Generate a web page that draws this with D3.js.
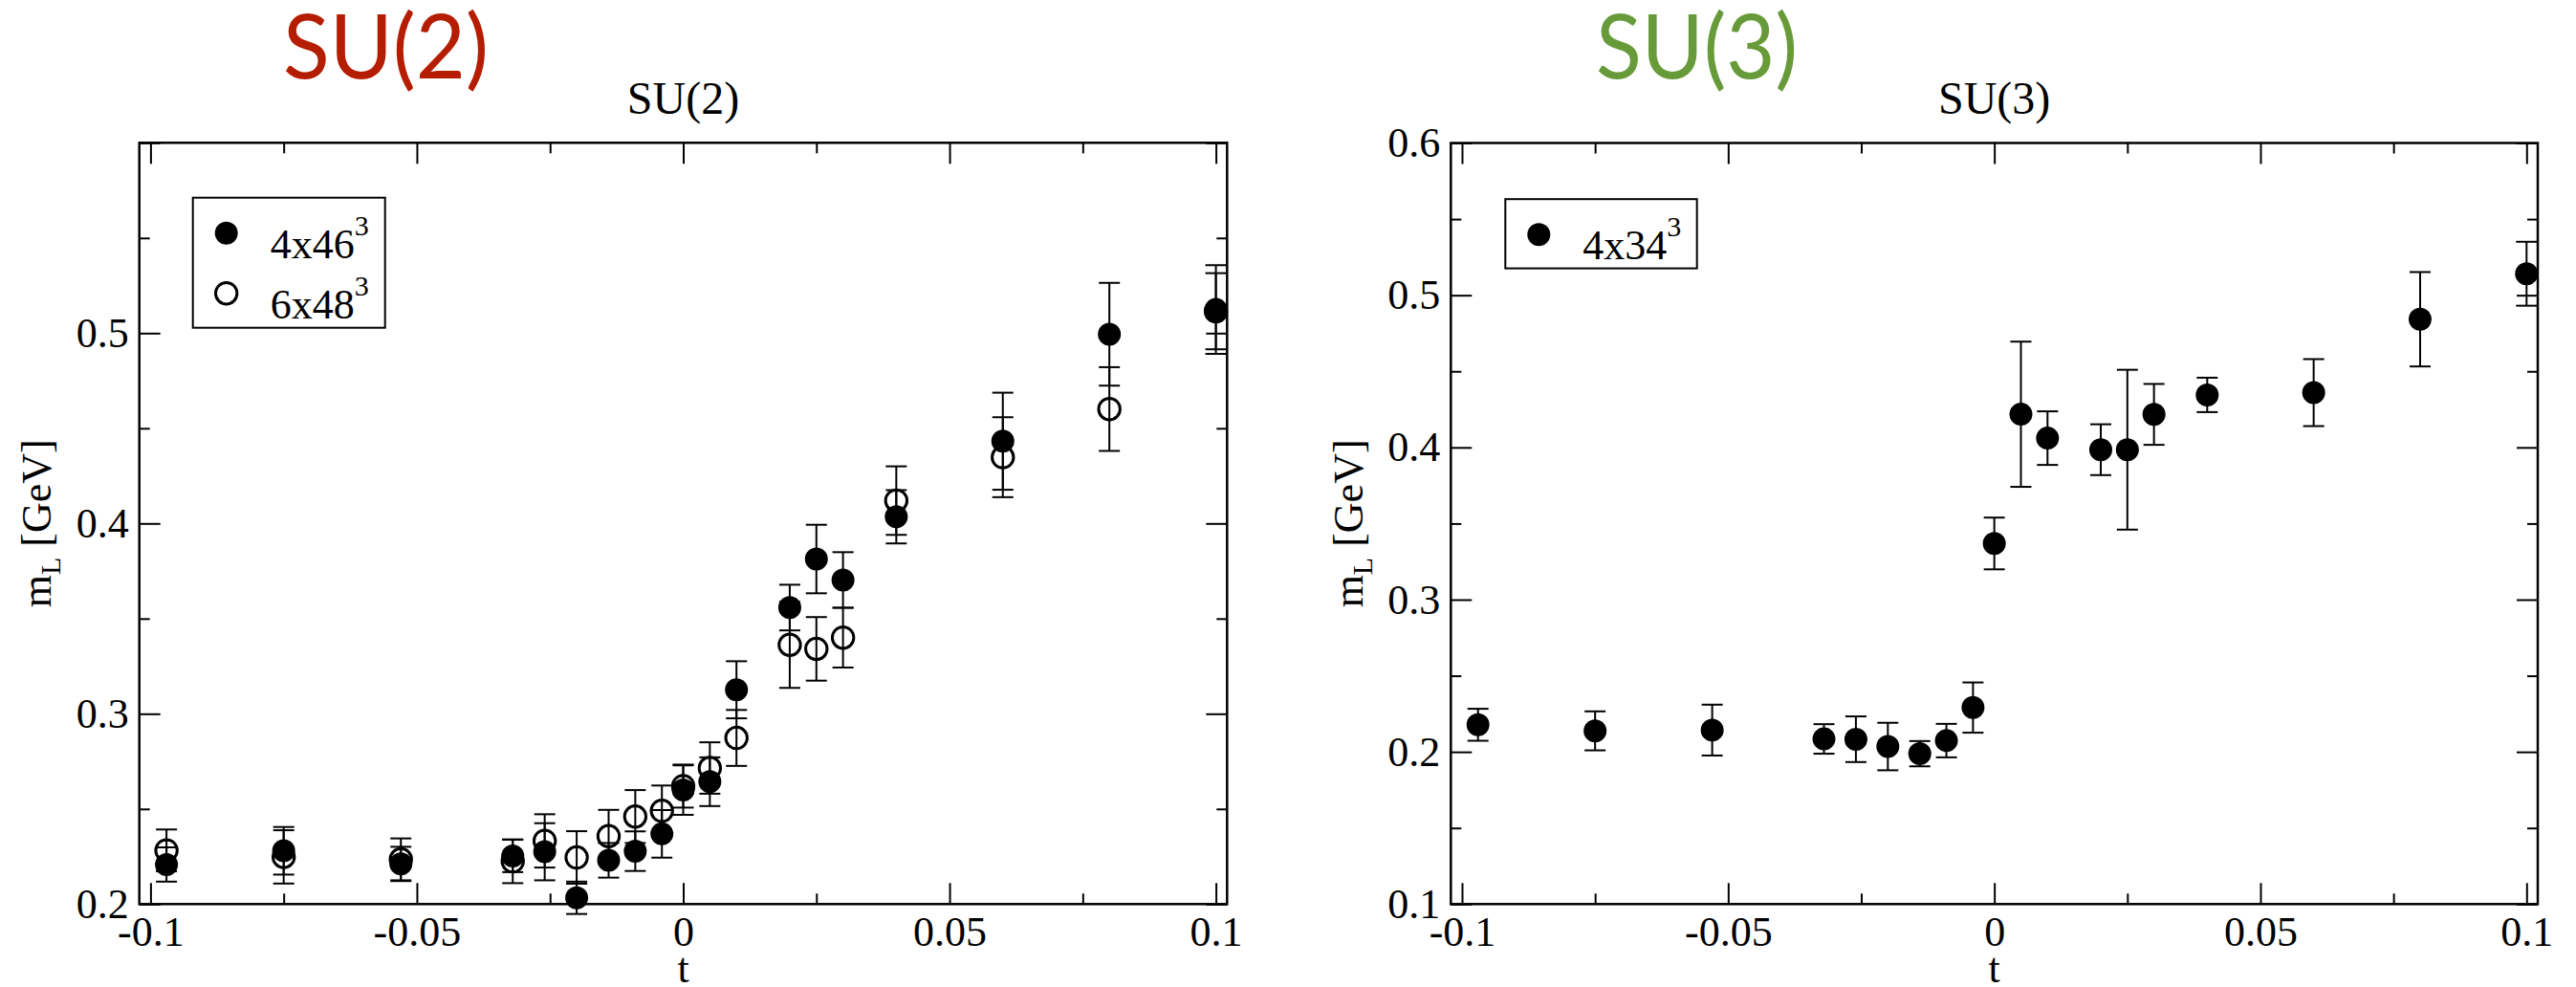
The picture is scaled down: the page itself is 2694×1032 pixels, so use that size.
<!DOCTYPE html>
<html><head><meta charset="utf-8">
<script src="https://cdn.jsdelivr.net/npm/d3@7"></script>
<style>body{margin:0;background:#fff}svg{display:block}</style>
</head><body>
<svg id="c" width="2694" height="1032"></svg>
<script>
// ---------- data ----------
const tSU2 = [-0.097,-0.075,-0.053,-0.032,-0.026,-0.020,-0.014,-0.009,-0.004,0,0.005,0.010,0.020,0.025,0.030,0.040,0.060,0.080,0.100];
const mSU2_4x46 = [0.2208,0.2280,0.2211,0.2253,0.2275,0.2033,0.2230,0.2278,0.2369,0.2599,0.2643,0.3126,0.3558,0.3813,0.3703,0.4035,0.4432,0.4994,0.5124];
const eSU2_4x46 = [0.0090,0.0125,0.0090,0.0085,0.0150,0.0085,0.0091,0.0104,0.0125,0.0130,0.0128,0.0150,0.0120,0.0180,0.0146,0.0140,0.0255,0.0270,0.0233];
const mSU2_6x48 = [0.2282,0.2248,0.2235,0.2225,0.2332,0.2245,0.2357,0.2460,0.2490,0.2620,0.2715,0.2873,0.3362,0.3341,0.3400,0.4120,0.4348,0.4601,0.5115];
const eSU2_6x48 = [0.0110,0.0140,0.0110,0.0115,0.0140,0.0138,0.0138,0.0139,0.0133,0.0113,0.0135,0.0147,0.0226,0.0167,0.0157,0.0180,0.0210,0.0220,0.0200];

const tSU3 = [-0.097,-0.075,-0.053,-0.032,-0.026,-0.020,-0.014,-0.009,-0.004,0,0.005,0.010,0.020,0.025,0.030,0.040,0.060,0.080,0.100];
const mSU3_4x34 = [0.2178,0.2138,0.2143,0.2085,0.2083,0.2035,0.1988,0.2074,0.2291,0.3369,0.4218,0.4061,0.3985,0.3985,0.4217,0.4345,0.4360,0.4842,0.5141];
const eSU3_4x34 = [0.0105,0.0128,0.0167,0.0097,0.0150,0.0156,0.0083,0.0110,0.0165,0.0170,0.0477,0.0176,0.0167,0.0525,0.0200,0.0113,0.0220,0.0310,0.0210];

const xMajor = [-0.1,-0.05,0,0.05,0.1];
const xMajorLabels = ["-0.1","-0.05","0","0.05","0.1"];
const xMinor = [-0.075,-0.025,0.025,0.075];
const yMajorSU2 = [0.2,0.3,0.4,0.5,0.6];
const yLabelsSU2 = ["0.2","0.3","0.4","0.5",""];
const yMinorSU2 = [0.25,0.35,0.45,0.55];
const yMajorSU3 = [0.1,0.2,0.3,0.4,0.5,0.6];
const yLabelsSU3 = ["0.1","0.2","0.3","0.4","0.5","0.6"];
const yMinorSU3 = [0.15,0.25,0.35,0.45,0.55];

const svg = d3.select("#c");
const SERIF = "'Liberation Serif','Times New Roman',serif";

function panel(o){
  const x = d3.scaleLinear().domain([-0.1021,0.1021]).range([o.x0,o.x1]);
  const y = d3.scaleLinear().domain(o.ydom).range([o.y1,o.y0]);
  const g = svg.append("g");
  const fmtX = (d)=> xMajorLabels[xMajor.indexOf(d)];
  const fmtY = (d)=> o.yLabels[o.yMajor.indexOf(d)];
  function style(sel, w){ sel.select(".domain").remove(); sel.selectAll("line").attr("stroke","#000").attr("stroke-width",w); sel.selectAll("text").attr("font-family",SERIF).attr("font-size",44).attr("fill","#000"); }
  // bottom
  g.append("g").attr("transform",`translate(0,${o.y1})`).call(d3.axisBottom(x).tickValues(xMajor).tickFormat(fmtX).tickSizeInner(-22).tickSizeOuter(0).tickPadding(12)).call(s=>style(s,2));
  g.append("g").attr("transform",`translate(0,${o.y1})`).call(d3.axisBottom(x).tickValues(xMinor).tickFormat("").tickSizeInner(-11).tickSizeOuter(0)).call(s=>style(s,2));
  // top
  g.append("g").attr("transform",`translate(0,${o.y0})`).call(d3.axisTop(x).tickValues(xMajor).tickFormat("").tickSizeInner(-22).tickSizeOuter(0)).call(s=>style(s,2));
  g.append("g").attr("transform",`translate(0,${o.y0})`).call(d3.axisTop(x).tickValues(xMinor).tickFormat("").tickSizeInner(-11).tickSizeOuter(0)).call(s=>style(s,2));
  // left
  g.append("g").attr("transform",`translate(${o.x0},0)`).call(d3.axisLeft(y).tickValues(o.yMajor).tickFormat(fmtY).tickSizeInner(-22).tickSizeOuter(0).tickPadding(11)).call(s=>style(s,2));
  g.append("g").attr("transform",`translate(${o.x0},0)`).call(d3.axisLeft(y).tickValues(o.yMinor).tickFormat("").tickSizeInner(-11).tickSizeOuter(0)).call(s=>style(s,2));
  // right
  g.append("g").attr("transform",`translate(${o.x1},0)`).call(d3.axisRight(y).tickValues(o.yMajor).tickFormat("").tickSizeInner(-22).tickSizeOuter(0)).call(s=>style(s,2));
  g.append("g").attr("transform",`translate(${o.x1},0)`).call(d3.axisRight(y).tickValues(o.yMinor).tickFormat("").tickSizeInner(-11).tickSizeOuter(0)).call(s=>style(s,2));
  // frame
  g.append("rect").attr("x",o.x0).attr("y",o.y0).attr("width",o.x1-o.x0).attr("height",o.y1-o.y0).attr("fill","none").attr("stroke","#000").attr("stroke-width",2.5);

  // error bars
  o.series.forEach(s=>{
    const eg = g.append("g").attr("stroke","#000").attr("stroke-width",2);
    s.t.forEach((t,i)=>{
      const cx = x(t), hi = y(s.m[i]+s.e[i]), lo = y(s.m[i]-s.e[i]);
      eg.append("line").attr("x1",cx).attr("x2",cx).attr("y1",hi).attr("y2",lo);
      eg.append("line").attr("x1",cx-11).attr("x2",cx+11).attr("y1",hi).attr("y2",hi);
      eg.append("line").attr("x1",cx-11).attr("x2",cx+11).attr("y1",lo).attr("y2",lo);
    });
  });
  // markers (open first, filled on top)
  o.series.slice().sort((a,b)=> (a.filled?1:0)-(b.filled?1:0)).forEach(s=>{
    g.append("g").selectAll("circle").data(s.t).join("circle")
      .attr("cx",d=>x(d)).attr("cy",(d,i)=>y(s.m[i]))
      .attr("r", s.filled?12:11.2)
      .attr("fill", s.filled?"#000":"none")
      .attr("stroke","#000").attr("stroke-width", s.filled?0:3);
  });

  // titles
  const cx = (o.x0+o.x1)/2;
  g.append("text").attr("x",cx).attr("y",119).attr("text-anchor","middle").attr("font-family",SERIF).attr("font-size",48).text(o.title);
  g.append("text").attr("x",cx).attr("y",1027).attr("text-anchor","middle").attr("font-family",SERIF).attr("font-size",44).text("t");
  const yl = g.append("text").attr("transform",`translate(${o.ylabX},${(o.y0+o.y1)/2}) rotate(-90)`).attr("text-anchor","middle").attr("font-family",SERIF).attr("font-size",44);
  yl.append("tspan").text("m");
  yl.append("tspan").attr("font-size",30).attr("dy",10).text("L");
  yl.append("tspan").attr("dy",-10).text(" [GeV]");
  // big colored title
  g.append("text").attr("x",o.bigX).attr("y",82).attr("font-family","Lato,'Open Sans',sans-serif").attr("font-size",94)
    .attr("fill",o.bigColor).attr("textLength",o.bigW).attr("lengthAdjust","spacingAndGlyphs").text(o.title);

  // legend
  const L = o.legend;
  g.append("rect").attr("x",L.x).attr("y",L.y).attr("width",L.w).attr("height",L.h).attr("fill","#fff").attr("stroke","#000").attr("stroke-width",2);
  L.items.forEach((it,k)=>{
    const yy = L.y + 37 + k*63;
    g.append("circle").attr("cx",L.x+35).attr("cy",yy).attr("r",it.filled?12:11.2)
      .attr("fill",it.filled?"#000":"none").attr("stroke","#000").attr("stroke-width",it.filled?0:3);
    const tx = g.append("text").attr("x",L.x+81).attr("y",yy+26).attr("font-family",SERIF).attr("font-size",44);
    tx.append("tspan").text(it.label);
    tx.append("tspan").attr("font-size",30).attr("dy",-24).text("3");
  });
}

panel({x0:145.7,x1:1283.3,y0:149.3,y1:945.3,ydom:[0.2,0.6],
  yMajor:yMajorSU2,yLabels:yLabelsSU2,yMinor:yMinorSU2,title:"SU(2)",ylabX:53,
  bigX:296,bigW:215,bigColor:"#b51d00",
  series:[{t:tSU2,m:mSU2_4x46,e:eSU2_4x46,filled:true},{t:tSU2,m:mSU2_6x48,e:eSU2_6x48,filled:false}],
  legend:{x:201.7,y:206.7,w:201,h:136,items:[{label:"4x46",filled:true},{label:"6x48",filled:false}]}});

panel({x0:1517.3,x1:2654,y0:149.5,y1:945.3,ydom:[0.1,0.6],
  yMajor:yMajorSU3,yLabels:yLabelsSU3,yMinor:yMinorSU3,title:"SU(3)",ylabX:1425,
  bigX:1669,bigW:211,bigColor:"#679b39",
  series:[{t:tSU3,m:mSU3_4x34,e:eSU3_4x34,filled:true}],
  legend:{x:1574.3,y:208.2,w:200.4,h:72.4,items:[{label:"4x34",filled:true}]}});
</script>
</body></html>
